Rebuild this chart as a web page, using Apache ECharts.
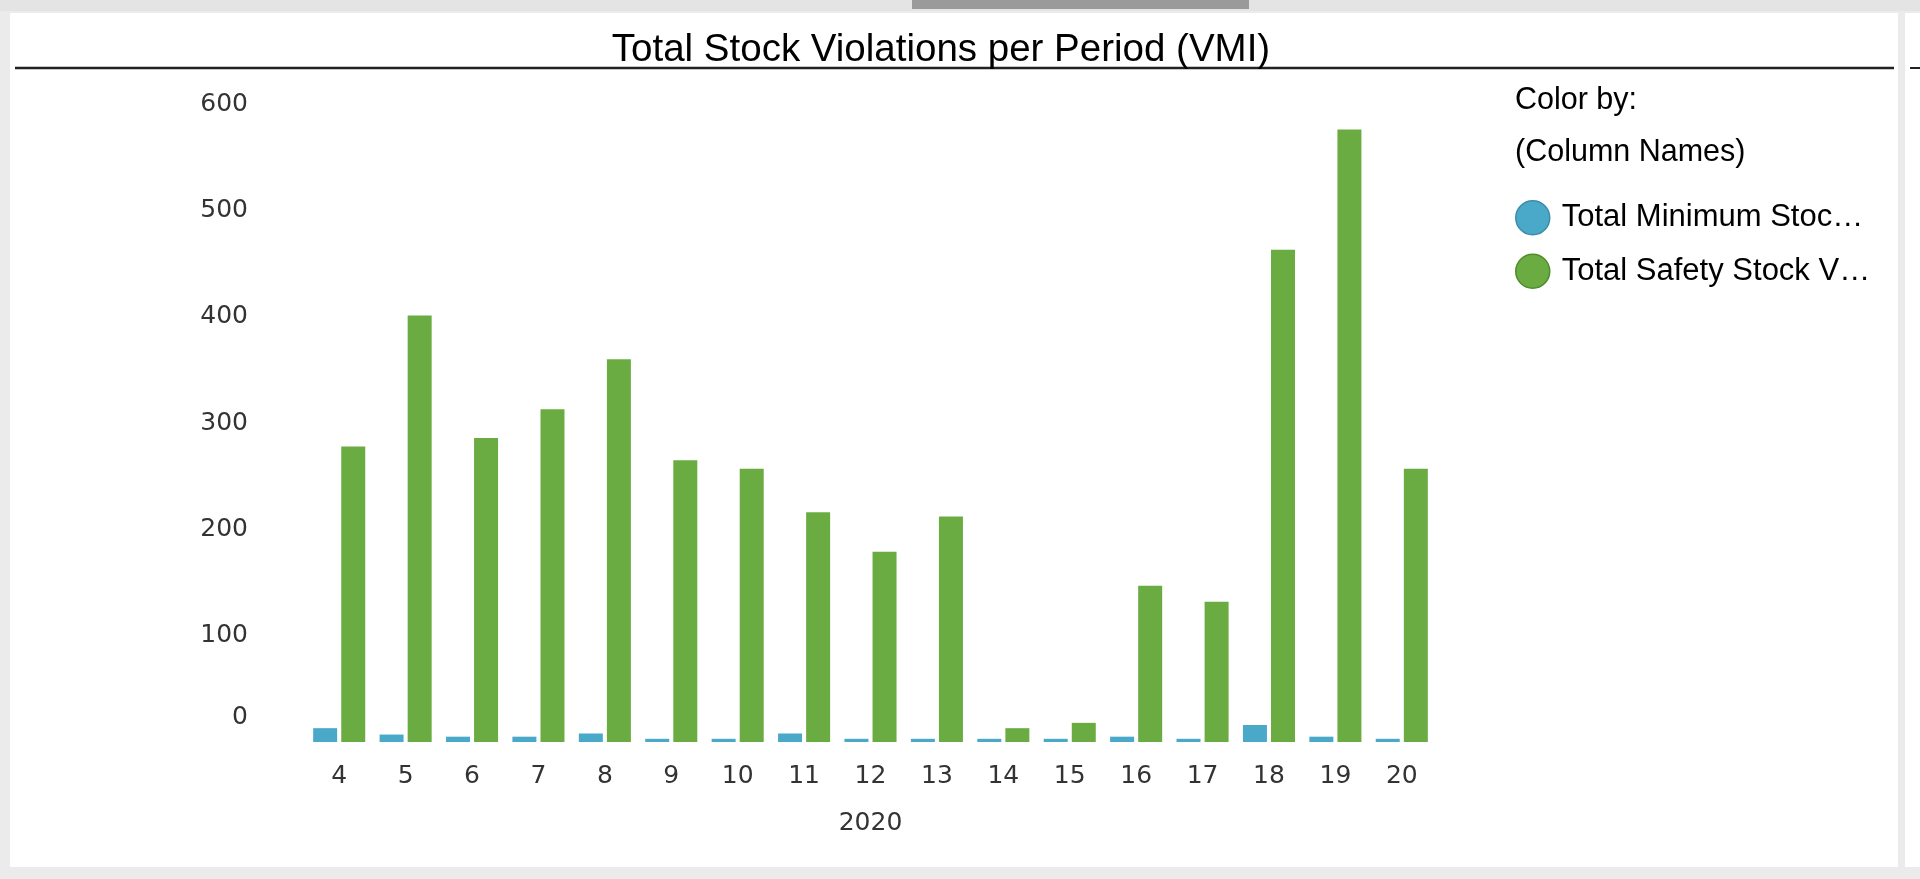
<!DOCTYPE html>
<html>
<head>
<meta charset="utf-8">
<script src="https://cdn.jsdelivr.net/npm/echarts@6/dist/echarts.min.js"></script>
<style>
  html, body { margin: 0; padding: 0; background: #ebebeb; }
  #chart { width: 1920px; height: 879px; }
</style>
</head>
<body>
<div id="chart"></div>
<script>
const categories = ['4','5','6','7','8','9','10','11','12','13','14','15','16','17','18','19','20'];
const minimumStock = [13, 7, 5, 5, 8, 3, 3, 8, 3, 3, 3, 3, 5, 3, 16, 5, 3];
const safetyStock = [278, 401, 286, 313, 360, 265, 257, 216, 179, 212, 13, 18, 147, 132, 463, 576, 257];
const seriesNames = ['Total Minimum Stock Violations', 'Total Safety Stock Violations'];
const legendLabels = ['Total Minimum Stoc\u2026', 'Total Safety Stock V\u2026'];
const xAxisName = '2020';
const titleText = 'Total Stock Violations per Period (VMI)';
const colorByLabel = 'Color by:';
const colorByValue = '(Column Names)';

const chart = echarts.init(document.getElementById('chart'));
const labelFont = 'DejaVu Sans';
const textFont = 'Liberation Sans';

chart.setOption({
  backgroundColor: 'transparent',
  animation: false,
  title: {
    text: titleText,
    left: 941,
    textAlign: 'center',
    top: 31,
    padding: 0,
    textStyle: { fontFamily: textFont, fontSize: 38.5, fontWeight: 'normal', color: '#000', lineHeight: 38 }
  },
  graphic: [
    { type: 'rect', z: -10, shape: { x: 10, y: 13, width: 1888, height: 854 }, style: { fill: '#ffffff' } },
    { type: 'rect', z: -10, shape: { x: 1905, y: 13, width: 15, height: 854 }, style: { fill: '#ffffff' } },
    { type: 'rect', z: -10, shape: { x: 0, y: 0, width: 1920, height: 11 }, style: { fill: '#e4e4e4' } },
    { type: 'rect', z: -9, shape: { x: 912, y: 0, width: 337, height: 9 }, style: { fill: '#9a9a9a' } },
    { type: 'line', z: -9, shape: { x1: 15, y1: 68, x2: 1894, y2: 68 }, style: { stroke: '#222', lineWidth: 2.5 } },
    { type: 'line', z: -9, shape: { x1: 1910, y1: 68, x2: 1920, y2: 68 }, style: { stroke: '#222', lineWidth: 2 } },
    { type: 'text', left: 1515, top: 85, style: { text: colorByLabel, font: '30.5px "Liberation Sans"', fill: '#000' } },
    { type: 'text', left: 1515, top: 137, style: { text: colorByValue, font: '30.5px "Liberation Sans"', fill: '#000' } }
  ],
  legend: {
    orient: 'vertical',
    left: 1515,
    top: 200,
    padding: 0,
    itemWidth: 34,
    itemHeight: 34,
    itemGap: 18,
    icon: 'circle',
    selectedMode: false,
    formatter: function (name) { return legendLabels[seriesNames.indexOf(name)]; },
    textStyle: { fontFamily: textFont, fontSize: 31, color: '#000', padding: [0, 0, 0, 7] },
    data: [
      { name: seriesNames[0], itemStyle: { borderColor: '#3b8eab', borderWidth: 1.5 } },
      { name: seriesNames[1], itemStyle: { borderColor: '#4f8d2c', borderWidth: 1.5 } }
    ]
  },
  grid: { left: 306, right: 485, top: 104, bottom: 137, containLabel: false },
  xAxis: {
    type: 'category',
    data: categories,
    name: xAxisName,
    nameLocation: 'middle',
    nameGap: 69,
    nameTextStyle: { fontFamily: labelFont, fontSize: 25, color: '#333' },
    axisLine: { show: false },
    axisTick: { show: false },
    axisLabel: { fontFamily: labelFont, fontSize: 25, color: '#333', margin: 22 }
  },
  yAxis: {
    type: 'value',
    min: 0,
    max: 600,
    interval: 100,
    axisLine: { show: false },
    axisTick: { show: false },
    splitLine: { show: false },
    axisLabel: {
      fontFamily: labelFont, fontSize: 25, color: '#333', margin: 58,
      formatter: function (v) { return v === 0 ? '{z|0}' : String(v); },
      rich: { z: { fontFamily: labelFont, fontSize: 25, color: '#333', padding: [0, 0, 50, 0] } }
    }
  },
  series: [
    {
      name: seriesNames[0], type: 'bar', data: minimumStock,
      barWidth: 24, barGap: '17%',
      itemStyle: { color: '#4aa8c8' }
    },
    {
      name: seriesNames[1], type: 'bar', data: safetyStock,
      barWidth: 24, barGap: '17%',
      itemStyle: { color: '#6aac42' }
    }
  ]
});
</script>
</body>
</html>
